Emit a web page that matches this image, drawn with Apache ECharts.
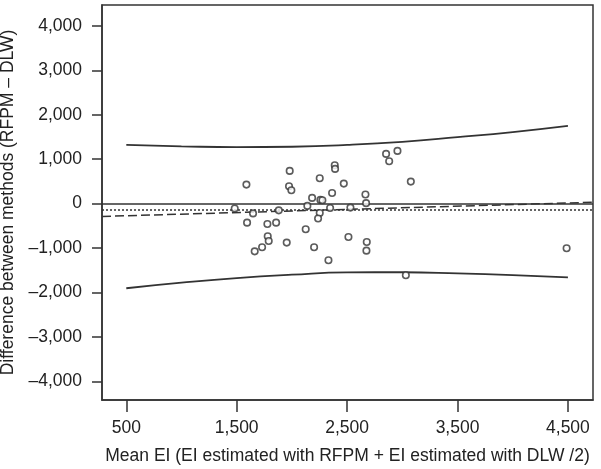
<!DOCTYPE html>
<html>
<head>
<meta charset="utf-8">
<script src="https://cdn.jsdelivr.net/npm/echarts@6/dist/echarts.min.js"></script>
<style>
  html, body { margin: 0; padding: 0; background: #fff; }
  #chart { width: 601px; height: 469px; }
</style>
</head>
<body>
<div id="chart"></div>
<script>
// mean EI (x) and difference RFPM - DLW (y)
var meanEI = [1588, 1482, 1648, 1594, 1778, 1857, 1881, 1781, 1790, 1663, 1730, 1953,
  1980, 1974, 1995, 2140, 2183, 2125, 2201, 2252, 2258, 2276, 2252, 2237, 2346, 2364,
  2331, 2388, 2391, 2470, 2530, 2512, 2666, 2672, 2678, 2675, 2853, 2881, 2956, 3077,
  3032, 4488];
var diff = [428, -110, -220, -428, -458, -428, -152, -736, -841, -1074, -983, -878,
  736, 390, 300, -52, 128, -578, -983, 571, 83, 75, -210, -335, -100, 240,
  -1276, 863, 781, 450, -90, -751, 206, 10, -863, -1059, 1119, 953, 1186, 495,
  -1614, -1006];

// limits of agreement curves
var curveX = [500, 1000, 1500, 2000, 2500, 3000, 3500, 4000, 4500];
var upperLoA = [1322, 1290, 1270, 1280, 1320, 1390, 1495, 1610, 1750];
var lowerLoA = [-1905, -1780, -1675, -1600, -1548, -1545, -1570, -1610, -1658];

// regression (dashed), mean bias (dotted)
var regX = [280, 4727];
var regY = [-290, 30];
var meanBias = -142;

var xTicks = [500, 1500, 2500, 3500, 4500];
var yTicks = [-4000, -3000, -2000, -1000, 0, 1000, 2000, 3000, 4000];

function zip(a, b) {
  return a.map(function (v, i) { return [v, b[i]]; });
}
function fmt(v) {
  var s = Math.abs(v).toString().replace(/\B(?=(\d{3})+(?!\d))/g, ',');
  return v < 0 ? '\u2013' + s : s;
}

var ink = '#333';
var chart = echarts.init(document.getElementById('chart'));
var option = {
  animation: false,
  textStyle: { fontFamily: 'Liberation Sans, Arial, sans-serif' },
  grid: {
    left: 102, right: 8, top: 5, bottom: 69,
    containLabel: false,
    outerBoundsMode: 'none',
    show: true, borderColor: ink, borderWidth: 1.5, backgroundColor: 'transparent'
  },
  xAxis: {
    type: 'value',
    min: 280, max: 4727,
    name: 'Mean EI (EI estimated with RFPM + EI estimated with DLW /2)',
    nameLocation: 'middle',
    nameGap: 47,
    nameTextStyle: { fontSize: 17.5, color: '#222' },
    axisLine: { onZero: false, lineStyle: { color: ink, width: 1.5 } },
    axisTick: { inside: false, length: 12, customValues: xTicks, lineStyle: { color: ink, width: 1.5 } },
    axisLabel: { customValues: xTicks, formatter: fmt, fontSize: 17.5, color: '#222', margin: 19 },
    splitLine: { show: false }
  },
  yAxis: {
    type: 'value',
    min: -4420, max: 4470,
    name: 'Difference between methods (RFPM \u2013 DLW)',
    nameLocation: 'middle',
    nameGap: 77,
    nameTextStyle: { fontSize: 17.5, color: '#222' },
    axisLine: { show: true, onZero: false, lineStyle: { color: ink, width: 1.5 } },
    axisTick: { show: true, inside: false, length: 10, customValues: yTicks, lineStyle: { color: ink, width: 1.5 } },
    axisLabel: { customValues: yTicks, formatter: fmt, fontSize: 17.5, color: '#222', margin: 20 },
    splitLine: { show: false }
  },
  series: [
    {
      type: 'line',
      data: zip(curveX, upperLoA),
      smooth: true,
      symbol: 'none',
      lineStyle: { color: ink, width: 1.8 }
    },
    {
      type: 'line',
      data: zip(curveX, lowerLoA),
      smooth: true,
      symbol: 'none',
      lineStyle: { color: ink, width: 1.8 }
    },
    {
      type: 'line',
      data: zip(regX, regY),
      symbol: 'none',
      lineStyle: { color: ink, width: 1.5, type: [9, 4] }
    },
    {
      type: 'scatter',
      data: zip(meanEI, diff),
      symbol: 'circle',
      symbolSize: 6.5,
      itemStyle: { color: '#fff', borderColor: ink, borderWidth: 1.6 },
      markLine: {
        silent: true,
        symbol: 'none',
        label: { show: false },
        data: [
          { yAxis: 0, lineStyle: { color: ink, width: 1.5, type: 'solid' } },
          { yAxis: meanBias, lineStyle: { color: ink, width: 1.5, type: [2, 2] } }
        ]
      },
      z: 5
    }
  ]
};
chart.setOption(option);
</script>
</body>
</html>
